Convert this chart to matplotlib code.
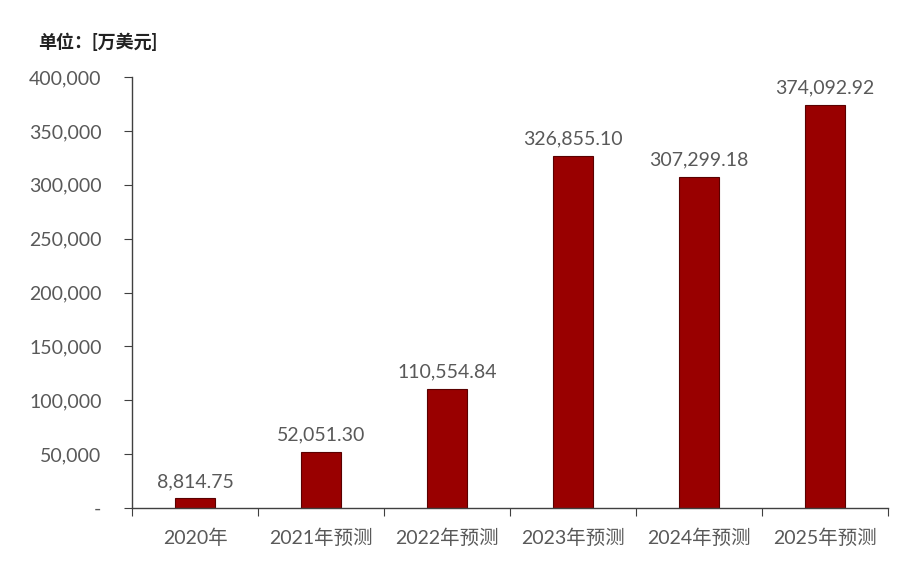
import matplotlib.pyplot as plt
from matplotlib.ticker import FuncFormatter

plt.rcParams['font.family'] = ['Lato', 'Noto Sans CJK SC', 'DejaVu Sans']

categories = ['2020年', '2021年预测', '2022年预测', '2023年预测', '2024年预测', '2025年预测']
values = [8814.75, 52051.30, 110554.84, 326855.10, 307299.18, 374092.92]
labels = ['8,814.75', '52,051.30', '110,554.84', '326,855.10', '307,299.18', '374,092.92']

grey = '#595959'

fig = plt.figure(figsize=(8.97, 5.63), dpi=100)
ax = fig.add_axes([0.1472, 0.0977, 0.843, 0.7655])

x = range(len(categories))
bars = ax.bar(x, values, width=0.32, color='#990000', edgecolor='#5a0000', linewidth=0.8)

for i, v in enumerate(values):
    ax.annotate(labels[i], (i, v), xytext=(0, 6), textcoords='offset points',
                ha='center', va='bottom', fontsize=14, color=grey)

ax.set_xlim(-0.5, len(categories) - 0.5)
ax.set_ylim(0, 400000)
ax.set_yticks(range(0, 400001, 50000))
ax.yaxis.set_major_formatter(FuncFormatter(lambda v, p: '-' if v == 0 else f'{int(v):,}'))

ax.set_xticks([i - 0.5 for i in range(len(categories) + 1)])
ax.set_xticklabels([])
ax.set_xticks(list(x), minor=True)
ax.set_xticklabels(categories, minor=True)
ax.tick_params(axis='x', which='minor', length=0, pad=15, labelsize=14, labelcolor=grey)
ax.tick_params(axis='x', which='major', length=6, direction='out', color='#404040')
ax.tick_params(axis='y', length=6, direction='out', color='#404040', labelsize=14,
               labelcolor=grey, pad=16)

for s in ['top', 'right']:
    ax.spines[s].set_visible(False)
for s in ['left', 'bottom']:
    ax.spines[s].set_color('#404040')
    ax.spines[s].set_linewidth(1.0)

fig.text(0.042, 0.925, '单位：[万美元]', fontsize=13, fontweight='bold', color='#222222',
         ha='left', va='center')

fig.savefig('out.png', dpi=100)
